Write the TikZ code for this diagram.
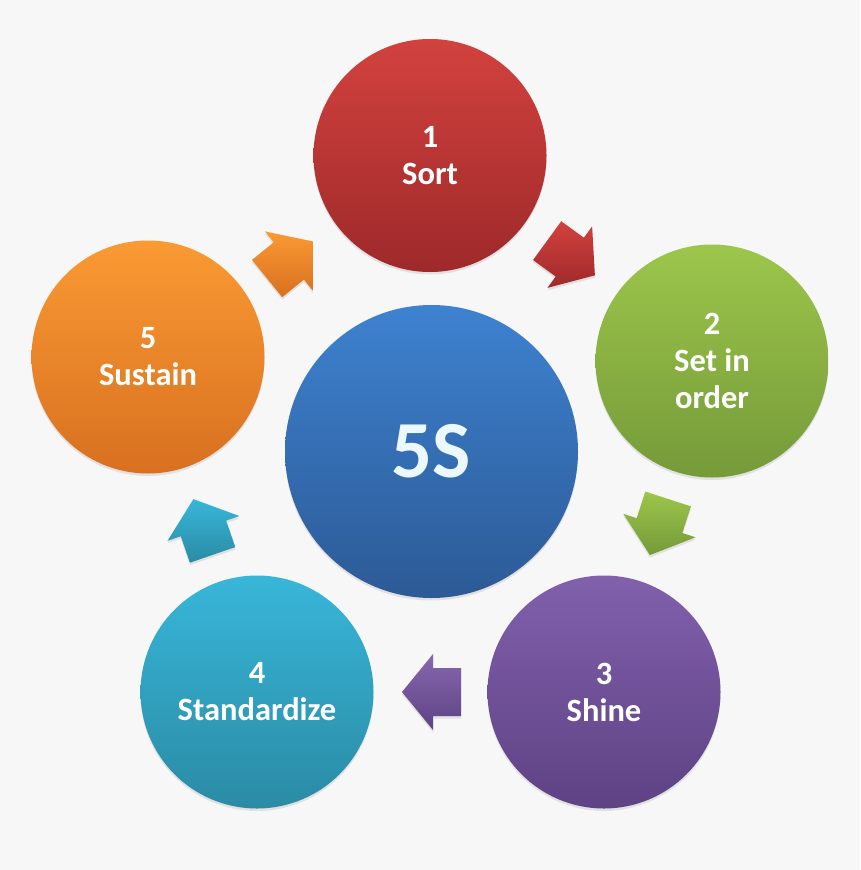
\documentclass[tikz,border=0pt]{standalone}
\usepackage{fontspec}
\setmainfont{Carlito}
\usetikzlibrary{calc,shadows}
\definecolor{bg}{HTML}{F7F7F7}
\definecolor{redT}{HTML}{D2423E}\definecolor{redB}{HTML}{9E292A}
\definecolor{grnT}{HTML}{9CC64B}\definecolor{grnB}{HTML}{759A39}
\definecolor{purT}{HTML}{8160AC}\definecolor{purB}{HTML}{5E4284}
\definecolor{tealT}{HTML}{38B6D9}\definecolor{tealB}{HTML}{2A8BA4}
\definecolor{orgT}{HTML}{FA9A33}\definecolor{orgB}{HTML}{D87020}
\definecolor{bluT}{HTML}{3E82D0}\definecolor{bluB}{HTML}{2C5A96}
\tikzset{
  softshadow/.style={drop shadow={opacity=0.18, shadow xshift=0pt, shadow yshift=-2.5pt}},
  stage/.style={circle, minimum size=233pt, inner sep=0pt, text=white, align=center,
    font=\fontsize{32.5}{37}\selectfont\bfseries, softshadow},
  hub/.style={circle, minimum size=293pt, inner sep=0pt, text=white!92!cyan,
    font=\fontsize{81}{90}\selectfont\bfseries, softshadow, top color=bluT, bottom color=bluB},
  barrow/.style={softshadow},
}
\newcommand\blockarrow[4]{%
  \coordinate (#1) at (#2);
  \path[barrow,#4]
    ($(#1)+(#3:-29.5)+(#3+90:24)$) -- ($(#1)+(#3:-1.5)+(#3+90:24)$) --
    ($(#1)+(#3:-1.5)+(#3+90:38)$) -- ($(#1)+(#3:29.5)$) --
    ($(#1)+(#3:-1.5)+(#3-90:38)$) -- ($(#1)+(#3:-1.5)+(#3-90:24)$) --
    ($(#1)+(#3:-29.5)+(#3-90:24)$) -- cycle;}
\begin{document}
\begin{tikzpicture}[x=1pt,y=1pt]
\fill[bg] (0,0) rectangle (860,-870);
\node[hub] (hub) at (431.5,-451.5) {5S};
\node[stage, top color=redT, bottom color=redB] (s1) at (430,-155.5) {1\\Sort};
\node[stage, top color=grnT, bottom color=grnB] (s2) at (712,-361) {2\\Set in\\order};
\node[stage, top color=purT, bottom color=purB] (s3) at (604,-692) {3\\Shine};
\node[stage, top color=tealT, bottom color=tealB] (s4) at (257,-692) {4\\Standardize};
\node[stage, top color=orgT, bottom color=orgB] (s5) at (148,-357) {5\\Sustain};
\blockarrow{a12}{571,-258}{-36}{top color=redT, bottom color=redB}
\blockarrow{a23}{659,-527}{-108}{top color=grnT, bottom color=grnB}
\blockarrow{a34}{431.5,-692}{180}{top color=purT!95!white, bottom color=purB}
\blockarrow{a45}{203,-527}{109}{top color=tealT, bottom color=tealB}
\blockarrow{a51}{290,-260}{39}{top color=orgT, bottom color=orgB}
\end{tikzpicture}
\end{document}
